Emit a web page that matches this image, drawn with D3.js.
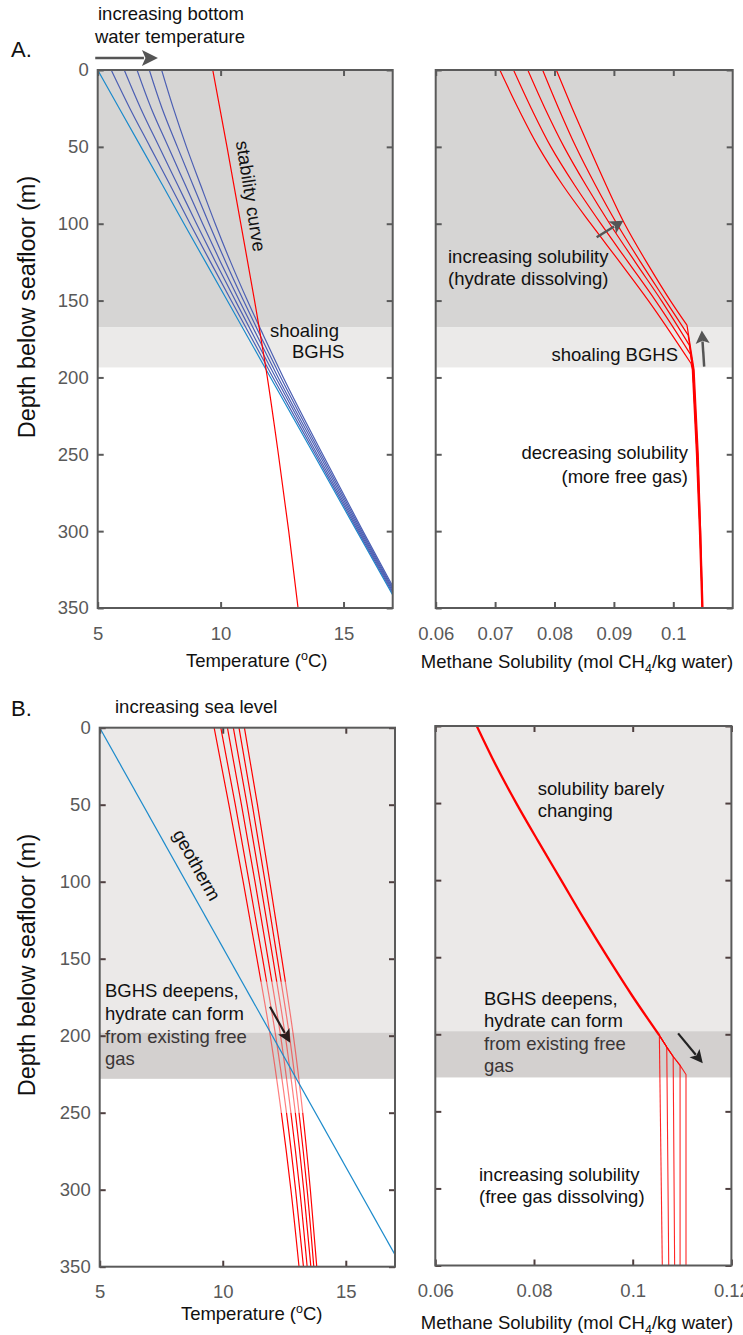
<!DOCTYPE html>
<html><head><meta charset="utf-8">
<script src="https://cdn.jsdelivr.net/npm/d3@7"></script>
<style>
body{margin:0;background:#fff;}
svg{display:block;font-family:"Liberation Sans",Arial,Helvetica,sans-serif;}
</style></head><body>
<svg id="chart" width="743" height="1335"></svg>
<script>
// ---------------- DATA ----------------
const depthTicks = [0, 50, 100, 150, 200, 250, 300, 350];
const tempTicks = [5, 10, 15];
const solTicksA = [0.06, 0.07, 0.08, 0.09, 0.1];
const solTicksB = [0.06, 0.08, 0.1, 0.12];
const depthDomain = [0, 350];
const tempDomain = [5, 17];
const solDomainA = [0.06, 0.11];
const solDomainB = [0.06, 0.12];

// Panel A: shaded hydrate zone limits (m)
const bghsA = [167.5, 193.5];
// Panel B: shaded limits (m)
const bghsB = [198, 228];
// Panel B left: depth range where stability curves are drawn faded (m)
const fadeB = [165, 250];

// Panel A left: geotherms (temperature, degC) at depths
const geoDepthsA = [0, 25, 50, 75, 100, 125, 150, 175, 200, 250, 300, 350];
const geothermA0 = [5.00, 5.88, 6.76, 7.64, 8.51, 9.39, 10.27, 11.15, 12.03, 13.79, 15.54, 17.30];
const geothermsA = [
  [5.55, 6.31, 7.13, 7.95, 8.76, 9.59, 10.43, 11.28, 12.13, 13.86, 15.59, 17.34],
  [6.08, 6.75, 7.50, 8.26, 9.02, 9.80, 10.60, 11.41, 12.24, 13.93, 15.64, 17.37],
  [6.60, 7.18, 7.87, 8.57, 9.27, 10.00, 10.76, 11.55, 12.34, 14.01, 15.69, 17.41],
  [7.10, 7.62, 8.24, 8.88, 9.53, 10.21, 10.93, 11.68, 12.45, 14.08, 15.74, 17.44],
  [7.60, 8.08, 8.61, 9.19, 9.78, 10.41, 11.09, 11.81, 12.55, 14.15, 15.79, 17.48]
];
// hydrate stability curve (A)
const stabDepths = [0, 50, 100, 150, 200, 250, 300, 350];
const stabA = [9.68, 10.26, 10.82, 11.38, 11.90, 12.35, 12.77, 13.15];

// Panel A right: methane solubility (mol/kg)
const solDepthsA = [0, 25, 50, 75, 100, 125, 150];
const solHydA = [
  [0.0708, 0.0739, 0.0773, 0.0814, 0.0861, 0.0910, 0.0958],
  [0.0731, 0.0761, 0.0794, 0.0834, 0.0878, 0.0924, 0.0970],
  [0.0755, 0.0784, 0.0816, 0.0853, 0.0893, 0.0936, 0.0980],
  [0.0780, 0.0807, 0.0836, 0.0869, 0.0905, 0.0945, 0.0987],
  [0.0803, 0.0830, 0.0858, 0.0887, 0.0918, 0.0955, 0.0995]
];
const kinkDepthA = [191, 185, 179, 172.5, 166];
const kinkSolA = [0.1030, 0.1029, 0.1027, 0.1025, 0.1023];
const tailDepthsA = [195, 250, 300, 350];
const tailSolA = [
  [0.1032, 0.1039, 0.1044, 0.1048],
  [0.1033, 0.1040, 0.1045, 0.1049],
  [0.1033, 0.1040, 0.1045, 0.1049],
  [0.1034, 0.1041, 0.1046, 0.1049],
  [0.1035, 0.1042, 0.1046, 0.1050]
];

// Panel B left: geotherm and stability curves for rising sea level
const geoDepthsB = [0, 350];
const geothermB = [5.00, 17.27];
const stabB = [
  [9.65, 10.25, 10.83, 11.39, 11.93, 12.38, 12.77, 13.10],
  [9.92, 10.51, 11.07, 11.62, 12.15, 12.59, 12.96, 13.28],
  [10.19, 10.76, 11.31, 11.84, 12.35, 12.77, 13.13, 13.43],
  [10.43, 10.99, 11.52, 12.04, 12.54, 12.95, 13.29, 13.58],
  [10.66, 11.20, 11.72, 12.22, 12.71, 13.10, 13.43, 13.70],
  [10.88, 11.41, 11.91, 12.40, 12.87, 13.25, 13.56, 13.82]
];

// Panel B right: solubility
const solDepthsB = [0, 25, 50, 75, 100, 125, 150, 175];
const solCommonB = [0.0684, 0.0722, 0.0764, 0.0809, 0.0855, 0.0901, 0.0949, 0.0999];
const kinkDepthB = [200.7, 208.3, 214.4, 220.2, 226.1];
const kinkSolB = [0.1054, 0.1069, 0.1082, 0.1096, 0.1108];
const bottomSolB = [0.1060, 0.1073, 0.1085, 0.1096, 0.1108];

// ---------------- DRAWING ----------------
const svg = d3.select('#chart');
const FS = 18.5;
const RED = '#ff0000', BLUE = '#4c5fb3', CYAN = '#1b8acb';
const DARK_A = '#d6d5d4', LIGHT_A = '#ebeae9', LIGHT_B = '#ebe9e8', DARK_B = '#d3d0cf';

let clipId = 0;
function panel(box, xDomain, xTicks, xFmt, yLabels, frameCol, tickCol) {
  const w = box.x1 - box.x0, h = box.y1 - box.y0;
  const x = d3.scaleLinear().domain(xDomain).range([0, w]);
  const y = d3.scaleLinear().domain(depthDomain).range([0, h]);
  const g = svg.append('g').attr('transform', `translate(${box.x0},${box.y0})`);
  const id = 'clip' + (clipId++);
  g.append('clipPath').attr('id', id).append('rect').attr('width', w).attr('height', h);
  const bg = g.append('g');
  const plot = g.append('g').attr('clip-path', `url(#${id})`);
  const over = g.append('g');
  return {g, x, y, w, h, bg, plot, over, frameCol, tickCol, xTicks, xFmt, yLabels};
}
function finishAxes(p) {
  const {g, x, y, w, h} = p;
  const styleAxis = (sel, showText) => {
    sel.select('.domain').remove();
    sel.selectAll('line').attr('stroke', p.tickCol).attr('stroke-width', 2);
    sel.selectAll('text').attr('fill', '#595959').style('font-size', FS + 'px')
      .style('font-family', '"Liberation Sans",Arial,sans-serif');
    if (!showText) sel.selectAll('text').remove();
  };
  g.append('g').call(d3.axisLeft(y).tickValues(depthTicks).tickSizeInner(-6).tickSizeOuter(0).tickPadding(9))
    .call(s => styleAxis(s, p.yLabels));
  g.append('g').attr('transform', `translate(${w},0)`)
    .call(d3.axisRight(y).tickValues(depthTicks).tickSizeInner(-6).tickSizeOuter(0))
    .call(s => styleAxis(s, false));
  g.append('g').call(d3.axisTop(x).tickValues(p.xTicks).tickSizeInner(-6).tickSizeOuter(0))
    .call(s => styleAxis(s, false));
  g.append('g').attr('transform', `translate(0,${h})`)
    .call(d3.axisBottom(x).tickValues(p.xTicks).tickFormat(p.xFmt).tickSizeInner(-6).tickSizeOuter(0).tickPadding(18.5))
    .call(s => styleAxis(s, true));
  g.append('rect').attr('width', w).attr('height', h).attr('fill', 'none')
    .attr('stroke', p.frameCol).attr('stroke-width', 2);
}
function band(p, d0, d1, fill) {
  p.bg.append('rect').attr('x', 0).attr('width', p.w)
    .attr('y', p.y(d0)).attr('height', p.y(d1) - p.y(d0)).attr('fill', fill);
}
function drawLine(p, layer, depths, vals, color, width, opacity, curve) {
  const line = d3.line().x(d => p.x(d[1])).y(d => p.y(d[0])).curve(curve || d3.curveLinear);
  return layer.append('path').datum(depths.map((d, i) => [d, vals[i]]))
    .attr('d', line).attr('fill', 'none').attr('stroke', color)
    .attr('stroke-width', width).attr('stroke-opacity', opacity == null ? 1 : opacity)
    .attr('stroke-linejoin', 'round');
}
function arrow(p, layer, a, b, color, headLen, headW, width) {
  const x1 = p.x(a[0]), y1 = p.y(a[1]), x2 = p.x(b[0]), y2 = p.y(b[1]);
  const dx = x2 - x1, dy = y2 - y1, L = Math.hypot(dx, dy), ux = dx / L, uy = dy / L;
  const bx = x2 - ux * headLen, by = y2 - uy * headLen;
  layer.append('line').attr('x1', x1).attr('y1', y1).attr('x2', bx + ux * 2).attr('y2', by + uy * 2)
    .attr('stroke', color).attr('stroke-width', width);
  const nx = bx + ux * headLen * 0.22, ny = by + uy * headLen * 0.22;
  layer.append('path')
    .attr('d', `M${x2},${y2}L${bx - uy * headW},${by + ux * headW}L${nx},${ny}L${bx + uy * headW},${by - ux * headW}Z`)
    .attr('fill', color);
}
function text(str, x, y, opts = {}) {
  const t = svg.append('text').attr('x', x).attr('y', y).style('font-size', (opts.fs || FS) + 'px')
    .attr('fill', opts.fill || '#111').attr('text-anchor', opts.anchor || 'start');
  if (opts.rotate != null) t.attr('transform', `rotate(${opts.rotate},${x},${y})`);
  if (opts.baseline) t.attr('dominant-baseline', opts.baseline);
  t.text(str);
  return t;
}
function tempLabel(cx, y) {
  const t = svg.append('text').attr('x', cx).attr('y', y).attr('text-anchor', 'middle')
    .style('font-size', FS + 'px').attr('fill', '#111');
  t.append('tspan').text('Temperature (');
  t.append('tspan').text('o').style('font-size', '12.5px').attr('dy', -7);
  t.append('tspan').text('C)').attr('dy', 7);
}
function solLabel(cx, y) {
  const t = svg.append('text').attr('x', cx).attr('y', y).attr('text-anchor', 'middle')
    .style('font-size', FS + 'px').attr('fill', '#111');
  t.append('tspan').text('Methane Solubility (mol CH');
  t.append('tspan').text('4').style('font-size', '12.5px').attr('dy', 5);
  t.append('tspan').text('/kg water)').attr('dy', -5);
}
function depthLabel(cy) {
  text('Depth below seafloor (m)', 35, cy, {anchor: 'middle', rotate: -90, fs: 23.5});
}
const fmtTemp = d3.format('d');
const fmtSol = d => String(+d.toFixed(2));
const smooth = d3.curveMonotoneY;

// ---------- Panel A left ----------
const pA1 = panel({x0: 97.7, x1: 392.7, y0: 70, y1: 608}, tempDomain, tempTicks, fmtTemp, true, '#5a5a5a', '#5a5a5a');
band(pA1, 0, bghsA[0], DARK_A);
band(pA1, bghsA[0], bghsA[1], LIGHT_A);
drawLine(pA1, pA1.plot, geoDepthsA, geothermA0, CYAN, 1.2);
geothermsA.forEach(v => drawLine(pA1, pA1.plot, geoDepthsA, v, BLUE, 1.2, 1, smooth));
drawLine(pA1, pA1.plot, stabDepths, stabA, RED, 1.2, 1, smooth);
finishAxes(pA1);

// ---------- Panel A right ----------
const pA2 = panel({x0: 435.7, x1: 732.7, y0: 70, y1: 608}, solDomainA, solTicksA, fmtSol, false, '#5a5a5a', '#5a5a5a');
band(pA2, 0, bghsA[0], DARK_A);
band(pA2, bghsA[0], bghsA[1], LIGHT_A);
solHydA.forEach((v, i) => {
  drawLine(pA2, pA2.plot, solDepthsA.concat([kinkDepthA[i]]), v.concat([kinkSolA[i]]), RED, 1.2, 1, smooth);
  drawLine(pA2, pA2.plot, [kinkDepthA[i]].concat(tailDepthsA), [kinkSolA[i]].concat(tailSolA[i]), RED, 1.2);
});
finishAxes(pA2);

// ---------- Panel B left ----------
const pB1 = panel({x0: 99.7, x1: 395, y0: 727.7, y1: 1266.7}, tempDomain, tempTicks, fmtTemp, true, '#5a5a5a', '#4e3f3f');
band(pB1, 0, bghsB[0], LIGHT_B);
band(pB1, bghsB[0], bghsB[1], DARK_B);
const solidClip = pB1.g.append('clipPath').attr('id', 'solidB');
solidClip.append('rect').attr('width', pB1.w).attr('y', 0).attr('height', pB1.y(fadeB[0]));
solidClip.append('rect').attr('width', pB1.w).attr('y', pB1.y(fadeB[1])).attr('height', pB1.h - pB1.y(fadeB[1]));
const fadeClip = pB1.g.append('clipPath').attr('id', 'fadeB');
fadeClip.append('rect').attr('width', pB1.w).attr('y', pB1.y(fadeB[0])).attr('height', pB1.y(fadeB[1]) - pB1.y(fadeB[0]));
const solidLayer = pB1.plot.append('g').attr('clip-path', 'url(#solidB)');
const fadeLayer = pB1.plot.append('g').attr('clip-path', 'url(#fadeB)');
stabB.forEach(v => {
  drawLine(pB1, solidLayer, stabDepths, v, RED, 1.2, 1, smooth);
  drawLine(pB1, fadeLayer, stabDepths, v, RED, 1.2, 0.5, smooth);
});
drawLine(pB1, pB1.plot, geoDepthsB, geothermB, CYAN, 1.2);
finishAxes(pB1);

// ---------- Panel B right ----------
const pB2 = panel({x0: 435.3, x1: 731.4, y0: 726, y1: 1265.5}, solDomainB, solTicksB, fmtSol, false, '#5a5a5a', '#4e3f3f');
band(pB2, 0, bghsB[0], LIGHT_B);
band(pB2, bghsB[0], bghsB[1], DARK_B);
kinkDepthB.forEach((kd, i) => {
  drawLine(pB2, pB2.plot, kinkDepthB.slice(0, i + 1).concat([350]), kinkSolB.slice(0, i + 1).concat([bottomSolB[i]]), RED, 1.1, 0.85);
});
drawLine(pB2, pB2.plot, solDepthsB.concat([kinkDepthB[0]]), solCommonB.concat([kinkSolB[0]]), RED, 2.3, 1, smooth);
finishAxes(pB2);

// ---------- Annotations ----------
text('A.', 11, 57, {fs: 22});
text('B.', 11, 716, {fs: 22});
text('increasing bottom', 171, 20, {anchor: 'middle'});
text('water temperature', 170, 43, {anchor: 'middle'});
arrow(pA1, pA1.over, [4.9, -7.8], [7.45, -7.8], '#555555', 16, 8, 2.5);

text('stability curve', 251, 196, {anchor: 'middle', rotate: 81, baseline: 'central'});
text('shoaling', 270, 337);
text('BGHS', 292, 358);

text('increasing solubility', 448, 263);
text('(hydrate dissolving)', 448, 285);
text('shoaling BGHS', 551.5, 361);
text('decreasing solubility', 688, 459, {anchor: 'end'});
text('(more free gas)', 688, 483, {anchor: 'end'});
arrow(pA2, pA2.over, [0.0871, 108.8], [0.0916, 98.0], '#555555', 13, 7, 2.5);
arrow(pA2, pA2.over, [0.1052, 193.0], [0.1048, 169.5], '#555555', 13, 7, 2.5);

text('increasing sea level', 115, 713);
text('geotherm', 197, 865, {anchor: 'middle', rotate: 60.8, baseline: 'central'});
text('BGHS deepens,', 105, 997);
text('hydrate can form', 105, 1020);
text('from existing free', 105, 1043.3, {fill: '#3a3636'});
text('gas', 105, 1065, {fill: '#3a3636'});
arrow(pB1, pB1.over, [11.92, 181.2], [12.74, 204.5], '#2a1c1c', 13, 6.5, 2.2);

text('solubility barely', 537.7, 795);
text('changing', 537.7, 817);
text('BGHS deepens,', 484, 1005);
text('hydrate can form', 484, 1027.3);
text('from existing free', 484, 1050, {fill: '#3a3636'});
text('gas', 484, 1071.7, {fill: '#3a3636'});
text('increasing solubility', 479, 1181);
text('(free gas dissolving)', 479, 1203);
arrow(pB2, pB2.over, [0.1092, 199.4], [0.1142, 218.8], '#222222', 13, 6.5, 2.2);

tempLabel(256.7, 666.7);
tempLabel(251.7, 1320);
solLabel(577, 668.3);
solLabel(577, 1329);
depthLabel(307);
depthLabel(965);
</script></body></html>
